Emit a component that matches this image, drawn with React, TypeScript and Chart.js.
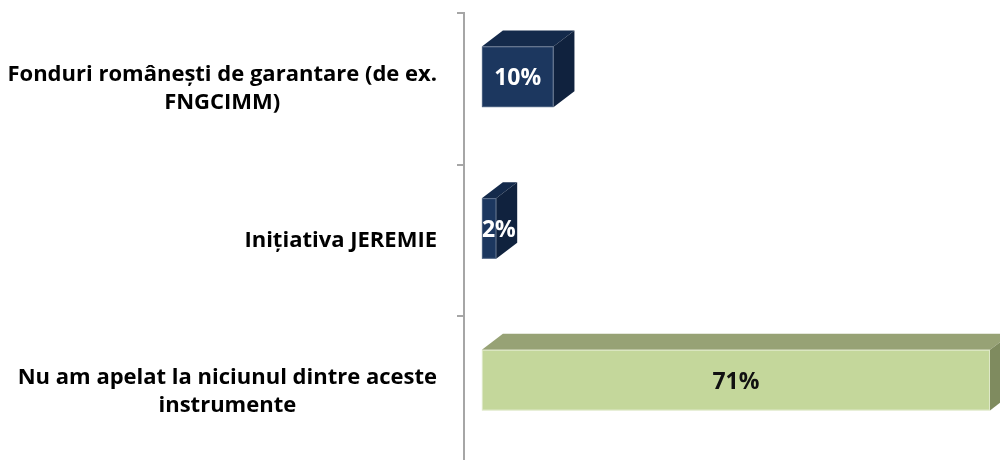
import React, { useEffect, useRef } from "react";
import { Chart, registerables } from "chart.js";

Chart.register(...registerables);

const categories: string[][] = [
  ["Fonduri românești de garantare (de ex.", "FNGCIMM)"],
  ["Inițiativa JEREMIE"],
  ["Nu am apelat la niciunul dintre aceste", "instrumente"],
];
const values: number[] = [10, 2, 71];
const valueLabels: string[] = ["10%", "2%", "71%"];

const FRONT = ["#1c375f", "#1c375f", "#c4d79b"];
const TOP = ["#142a4b", "#142a4b", "#97a275"];
const SIDE = ["#10223e", "#10223e", "#7f8b5f"];
const EDGE = ["rgba(255,255,255,0.22)", "rgba(255,255,255,0.22)", "rgba(255,255,255,0.45)"];
const VALUE_COLOR = ["#ffffff", "#ffffff", "#111111"];

const DX = 21;
const DY = -16;
const FRONT_SHIFT = -12;
const FONT = "'Open Sans', 'DejaVu Sans', sans-serif";

const bar3d = {
  id: "bar3d",
  afterDatasetsDraw(chart: any) {
    const ctx = chart.ctx as CanvasRenderingContext2D;
    const meta = chart.getDatasetMeta(0);
    meta.data.forEach((el: any, i: number) => {
      const { x, y, base, height } = el.getProps(["x", "y", "base", "height"], true);
      const L = Math.min(base, x);
      const R = Math.max(base, x);
      const T = y - height / 2 + FRONT_SHIFT;
      const B = y + height / 2 + FRONT_SHIFT;
      ctx.save();
      ctx.beginPath();
      ctx.moveTo(L, T);
      ctx.lineTo(L + DX, T + DY);
      ctx.lineTo(R + DX, T + DY);
      ctx.lineTo(R, T);
      ctx.closePath();
      ctx.fillStyle = TOP[i];
      ctx.fill();
      ctx.beginPath();
      ctx.moveTo(R, T);
      ctx.lineTo(R + DX, T + DY);
      ctx.lineTo(R + DX, B + DY);
      ctx.lineTo(R, B);
      ctx.closePath();
      ctx.fillStyle = SIDE[i];
      ctx.fill();
      ctx.fillStyle = FRONT[i];
      ctx.fillRect(L, T, R - L, B - T);
      ctx.strokeStyle = EDGE[i];
      ctx.lineWidth = 1;
      ctx.strokeRect(L + 0.5, T + 0.5, R - L - 1, B - T - 1);
      ctx.font = `bold 23px ${FONT}`;
      ctx.textBaseline = "middle";
      ctx.textAlign = "center";
      const tw = ctx.measureText(valueLabels[i]).width;
      const cx = Math.max((L + R) / 2, L + tw / 2);
      ctx.fillStyle = VALUE_COLOR[i];
      ctx.fillText(valueLabels[i], cx, (T + B) / 2 + 2);
      ctx.restore();
    });
  },
  afterDraw(chart: any) {
    const ctx = chart.ctx as CanvasRenderingContext2D;
    const scale = chart.scales.y;
    const right = scale.right - 27;
    const lineH = 28;
    ctx.save();
    ctx.font = `bold 22px ${FONT}`;
    ctx.fillStyle = "#000000";
    ctx.textBaseline = "middle";
    ctx.textAlign = "center";
    categories.forEach((lines, i) => {
      const yc = scale.getPixelForTick(i);
      const widest = Math.max(...lines.map((l) => ctx.measureText(l).width));
      const cx = right - widest / 2;
      const y0 = yc - ((lines.length - 1) * lineH) / 2;
      lines.forEach((l, j) => ctx.fillText(l, cx, y0 + j * lineH));
    });
    ctx.restore();
  },
};

export default function App() {
  const ref = useRef<HTMLCanvasElement | null>(null);
  useEffect(() => {
    if (!ref.current) return;
    const chart = new Chart(ref.current, {
      type: "bar",
      data: {
        labels: categories,
        datasets: [
          {
            data: values,
            backgroundColor: "rgba(0,0,0,0)",
            borderWidth: 0,
            categoryPercentage: 1,
            barPercentage: 0.4,
          },
        ],
      },
      options: {
        indexAxis: "y",
        animation: false,
        responsive: false,
        events: [],
        layout: { padding: { top: 13, bottom: 12, left: 0, right: 0 } },
        plugins: { legend: { display: false }, tooltip: { enabled: false } },
        scales: {
          x: { display: false, min: -2.5, max: 72.4 },
          y: {
            afterFit: (s: any) => {
              s.width = 464;
            },
            ticks: { display: false },
            grid: {
              drawOnChartArea: false,
              drawTicks: true,
              tickLength: 7,
              color: "#a6a6a6",
              lineWidth: 2,
              offset: true,
            },
            border: { display: true, color: "#a6a6a6", width: 2 },
          },
        },
      },
      plugins: [bar3d],
    });
    return () => chart.destroy();
  }, []);
  return (
    <div
      style={{
        position: "fixed",
        left: 0,
        top: 0,
        width: 1000,
        height: 460,
        overflow: "hidden",
        background: "#ffffff",
      }}
    >
      <canvas ref={ref} width={1000} height={480} style={{ display: "block" }} />
    </div>
  );
}
